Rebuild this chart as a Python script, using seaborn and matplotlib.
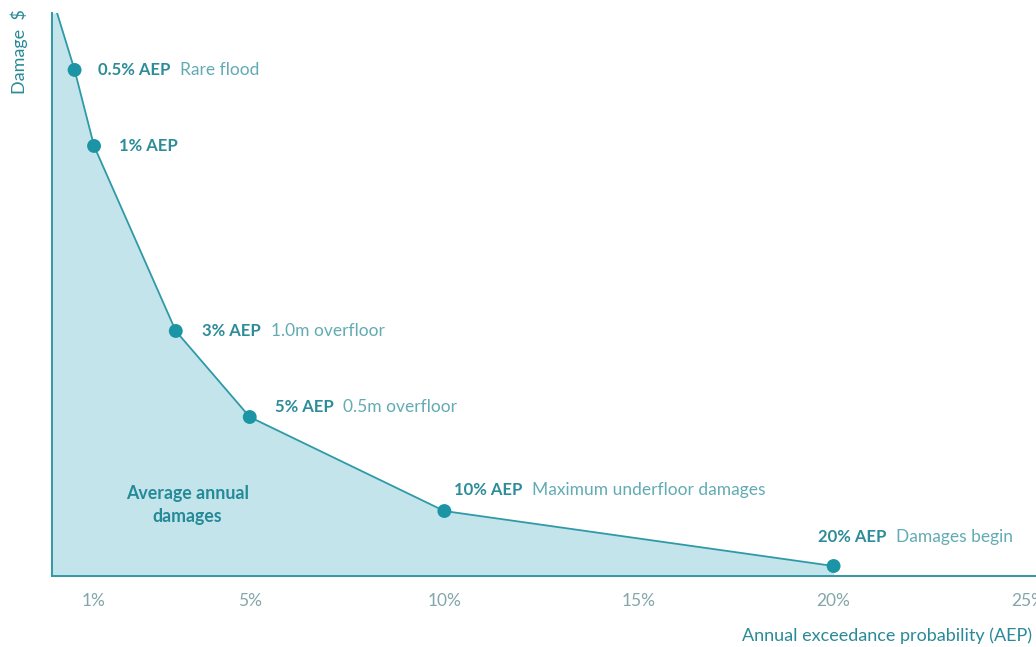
import numpy as np
import pandas as pd
import matplotlib
matplotlib.use("Agg")
import matplotlib.pyplot as plt
import seaborn as sns

# -------------------
# Data (damage in arbitrary units)
aep = [0.05, 0.5, 1, 3.1, 5, 10, 20]
damage = [563, 506, 430, 245, 159, 65, 10]

point_aep = [0.5, 1, 3.1, 5, 10, 20]
point_damage = [506, 430, 245, 159, 65, 10]
point_labels = ["0.5% AEP", "1% AEP", "3% AEP", "5% AEP", "10% AEP", "20% AEP"]
point_notes = ["Rare flood", "", "1.0m overfloor", "0.5m overfloor",
               "Maximum underfloor damages", "Damages begin"]

tick_values = [1, 5, 10, 15, 20, 25]
tick_labels = ["1%", "5%", "10%", "15%", "20%", "25%"]

curve_df = pd.DataFrame({"aep": aep, "damage": damage})
points_df = pd.DataFrame({"aep": point_aep, "damage": point_damage})

# -------------------
# Style
sns.set_style("white")
plt.rcParams["font.family"] = ["Lato", "DejaVu Sans"]

teal = "#2f9aa7"
dot = "#1b95a5"
fill = "#c3e4ea"
label_col = "#2d8c99"
note_col = "#62abb4"
tick_col = "#84a6aa"

fig = plt.figure(figsize=(10.36, 6.47), dpi=100)
ax = fig.add_axes([0.0502, 0.1097, 0.9498, 0.8703])
xmin, xmax = -0.08, 25.2
ax.set_xlim(xmin, xmax)

# shaded area runs from the y axis to the last point
ax.fill_between([xmin] + aep, [damage[0]] + damage, 0, color=fill, lw=0)
sns.lineplot(data=curve_df, x="aep", y="damage", ax=ax, color=teal, lw=1.3, sort=False)
sns.scatterplot(data=points_df, x="aep", y="damage", ax=ax, color=dot, s=100,
                edgecolor="none", zorder=3)

# -------------------
# Point labels
offsets = [(17, 0), (18, 0), (19, 0), (18, 7), (7, 15), (-11, 21)]
for x, y, lab, note, off in zip(point_aep, point_damage, point_labels, point_notes, offsets):
    t = ax.annotate(lab, xy=(x, y), xytext=off, textcoords="offset points",
                    ha="left", va="center", fontsize=12, fontweight="bold",
                    color=label_col)
    if note:
        ax.annotate(note, xy=(1, 0.5), xycoords=t, xytext=(7, 0),
                    textcoords="offset points", ha="left", va="center",
                    fontsize=12.5, color=note_col)

ax.text(3.4, 71, "Average annual\ndamages", ha="center", va="center",
        fontsize=12.8, fontweight="bold", color="#258a98", linespacing=1.45)

# -------------------
# Axes
ax.set_ylim(0, 563)
ax.set_xticks(tick_values)
ax.set_xticklabels(tick_labels)
ax.set_yticks([])
ax.tick_params(axis="x", length=0, pad=12, labelsize=12.5, labelcolor=tick_col)

for side in ["top", "right"]:
    ax.spines[side].set_visible(False)
for side in ["left", "bottom"]:
    ax.spines[side].set_color(teal)
    ax.spines[side].set_linewidth(1.4)

ax.set_xlabel("Annual exceedance probability (AEP)", loc="right", fontsize=13,
              color="#2a8a98")
ax.xaxis.set_label_coords(0.996, -0.092)
ax.set_ylabel("Damage  $", loc="top", fontsize=13, color="#2a8a98")
ax.yaxis.set_label_coords(-0.024, 1.006)

plt.savefig("out.png", dpi=100)
